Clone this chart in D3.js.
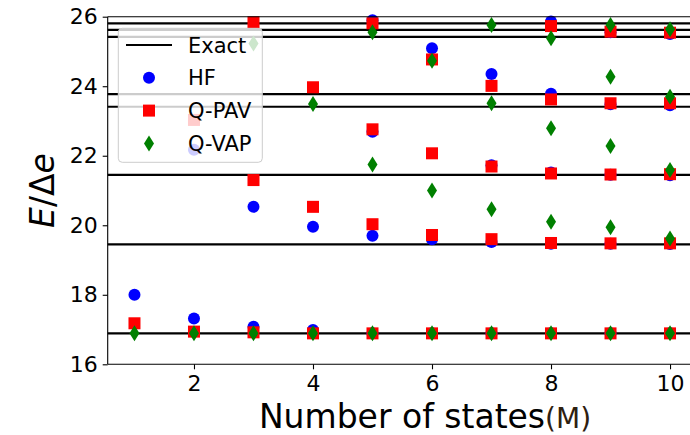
<!DOCTYPE html>
<html>
<head>
<meta charset="utf-8">
<script src="https://cdn.jsdelivr.net/npm/d3@7"></script>
<style>
  html, body { margin: 0; padding: 0; background: #fff; }
  svg { display: block; font-family: "DejaVu Sans", sans-serif; }
</style>
</head>
<body>
<div id="chart"></div>
<script>
// number of states M
const mValues = [1, 2, 3, 4, 5, 6, 7, 8, 9, 10];

// exact energies (horizontal lines)
const exactLevels = [16.89, 19.45, 21.45, 23.41, 23.77, 25.42, 25.62, 25.81];

// visible levels for each M (points above 26 are off the chart)
const hfLevels = [
  [18.0],
  [17.32, 22.17],
  [17.08, 20.53],
  [16.99, 19.96],
  [16.89, 19.7, 22.69, 25.9],
  [16.89, 19.6, 25.09],
  [16.89, 19.52, 21.73, 24.35],
  [16.89, 19.47, 21.52, 23.78, 25.86],
  [16.89, 19.47, 21.45, 23.48, 25.55],
  [16.89, 19.46, 21.44, 23.45, 25.5]
];
const qpavLevels = [
  [17.18],
  [16.94, 23.03],
  [16.92, 21.3, 25.84],
  [16.89, 20.53, 23.97],
  [16.89, 20.03, 22.76, 25.81],
  [16.89, 19.72, 22.07, 24.77],
  [16.89, 19.6, 21.69, 24.01],
  [16.89, 19.49, 21.49, 23.62, 25.73],
  [16.89, 19.48, 21.46, 23.51, 25.57],
  [16.89, 19.48, 21.47, 23.51, 25.54]
];
const qvapLevels = [
  [16.89],
  [16.89],
  [16.89, 25.23],
  [16.89, 23.49],
  [16.89, 21.75, 25.55],
  [16.89, 21.0, 24.73],
  [16.89, 20.46, 23.51, 25.76],
  [16.89, 20.1, 22.79, 25.38],
  [16.89, 19.94, 22.28, 24.27, 25.76],
  [16.89, 19.62, 21.59, 23.7, 25.64]
];

const xTicks = [2, 4, 6, 8, 10];
const yTicks = [16, 18, 20, 22, 24, 26];
const legendLabels = ["Exact", "HF", "Q-PAV", "Q-VAP"];

/** layout */
const W = 690, H = 435;
const plot = { left: 107.7, right: 696.8, top: 16.7, bottom: 364.3 };

const svg = d3.select("#chart").append("svg")
  .attr("width", W).attr("height", H);

const x = d3.scaleLinear().domain([0.55, 10.45]).range([plot.left, plot.right]);
const y = d3.scaleLinear().domain([16, 26]).range([plot.bottom, plot.top]);

const flatten = (levels) =>
  levels.flatMap((vals, i) => vals.map((v) => ({ m: mValues[i], e: v })));

// exact lines
svg.append("g").selectAll("line").data(exactLevels).join("line")
  .attr("x1", plot.left).attr("x2", plot.right)
  .attr("y1", (d) => y(d)).attr("y2", (d) => y(d))
  .attr("stroke", "#000").attr("stroke-width", 2.2);

// HF circles
svg.append("g").selectAll("circle").data(flatten(hfLevels)).join("circle")
  .attr("cx", (d) => x(d.m)).attr("cy", (d) => y(d.e))
  .attr("r", 6).attr("fill", "#0000ff");

// Q-PAV squares
const sq = 12;
svg.append("g").selectAll("rect").data(flatten(qpavLevels)).join("rect")
  .attr("x", (d) => x(d.m) - sq / 2).attr("y", (d) => y(d.e) - sq / 2)
  .attr("width", sq).attr("height", sq).attr("fill", "#ff0000");

// Q-VAP thin diamonds
const diamond = "M0,-8L5,0L0,8L-5,0Z";
svg.append("g").selectAll("path").data(flatten(qvapLevels)).join("path")
  .attr("transform", (d) => `translate(${x(d.m)},${y(d.e)})`)
  .attr("d", diamond).attr("fill", "#008000");

// axes
const xAxis = svg.append("g")
  .attr("transform", `translate(0,${plot.bottom})`)
  .call(d3.axisBottom(x).tickValues(xTicks).tickSize(5).tickPadding(6).tickFormat(d3.format("d")));
const yAxis = svg.append("g")
  .attr("transform", `translate(${plot.left},0)`)
  .call(d3.axisLeft(y).tickValues(yTicks).tickSize(5).tickPadding(5).tickFormat(d3.format("d")));

[xAxis, yAxis].forEach((g) => {
  g.select(".domain").attr("stroke", "#000").attr("stroke-width", 1.1);
  g.selectAll(".tick line").attr("stroke", "#000").attr("stroke-width", 1.1);
  g.selectAll(".tick text")
    .attr("fill", "#000")
    .style("font-family", "DejaVu Sans")
    .style("font-size", "22px");
});
yAxis.select(".domain").attr("d", `M0,${plot.bottom}V${plot.top}`);
xAxis.select(".domain").attr("d", `M${plot.left},0H${plot.right}`);

// top spine
svg.append("line")
  .attr("x1", plot.left).attr("x2", plot.right)
  .attr("y1", plot.top).attr("y2", plot.top)
  .attr("stroke", "#000").attr("stroke-width", 1.1);

// axis titles
const xl = svg.append("text")
  .attr("x", 425).attr("y", 428)
  .attr("text-anchor", "middle")
  .style("font-size", "33px").attr("fill", "#000");
xl.append("tspan").text("Number of states");
xl.append("tspan").text("(M)").style("font-size", "28px").attr("fill", "#2e2010");

const yl = svg.append("text")
  .attr("transform", `translate(54,${(plot.top + plot.bottom) / 2}) rotate(-90)`)
  .attr("text-anchor", "middle")
  .style("font-size", "33px").attr("fill", "#000");
yl.append("tspan").text("E").style("font-style", "italic");
yl.append("tspan").text("/Δ");
yl.append("tspan").text("e").style("font-style", "italic");

// legend
const lg = svg.append("g");
lg.append("rect")
  .attr("x", 118.3).attr("y", 28.3).attr("width", 144).attr("height", 134)
  .attr("rx", 4)
  .attr("fill", "#fff").attr("fill-opacity", 0.8)
  .attr("stroke", "#cccccc").attr("stroke-width", 1);

const rowY = (i) => 45 + i * 32.8;
const mx = 149;

lg.append("line")
  .attr("x1", 126).attr("x2", 172).attr("y1", rowY(0)).attr("y2", rowY(0))
  .attr("stroke", "#000").attr("stroke-width", 2.2);
lg.append("circle").attr("cx", mx).attr("cy", rowY(1)).attr("r", 6).attr("fill", "#0000ff");
lg.append("rect").attr("x", mx - sq / 2).attr("y", rowY(2) - sq / 2)
  .attr("width", sq).attr("height", sq).attr("fill", "#ff0000");
lg.append("path").attr("transform", `translate(${mx},${rowY(3)})`)
  .attr("d", diamond).attr("fill", "#008000");

lg.selectAll("text.lab").data(legendLabels).join("text")
  .attr("class", "lab")
  .attr("x", 188).attr("y", (d, i) => rowY(i))
  .attr("dy", "0.36em")
  .style("font-size", "21px").attr("fill", "#000")
  .text((d) => d);
</script>
</body>
</html>
